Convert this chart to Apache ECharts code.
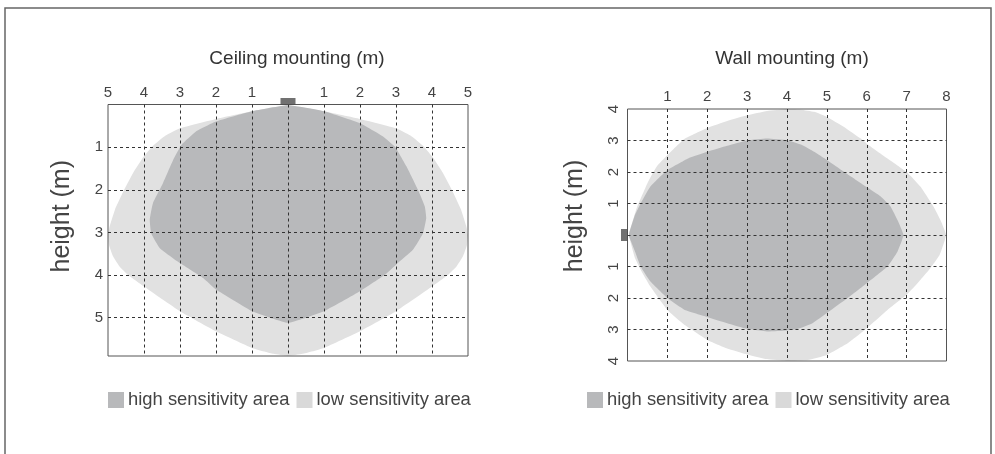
<!DOCTYPE html>
<html><head><meta charset="utf-8">
<style>html,body{margin:0;padding:0;background:#fff}#c{width:995px;height:454px}</style>
<script src="https://cdn.jsdelivr.net/npm/echarts@6/dist/echarts.min.js"></script>
</head><body><div id="c"></div>
<script>
const ceilingLow=[[0,.02],[1,.16],[2,.34],[3,.56],[3.4,.73],[3.75,.97],[4.05,1.27],[4.3,1.6],[4.55,2],[4.8,2.45],[4.95,2.85],[5,3.05],[4.97,3.3],[4.86,3.56],[4.68,3.8],[4.44,4],[4,4.27],[3,4.85],[2,5.32],[1,5.71],[.4,5.85],[0,5.9],[-.4,5.85],[-1,5.71],[-2,5.32],[-3,4.85],[-4,4.27],[-4.44,4],[-4.68,3.8],[-4.86,3.56],[-4.97,3.3],[-5,3.05],[-4.95,2.85],[-4.8,2.45],[-4.55,2],[-4.3,1.6],[-4.05,1.27],[-3.75,.97],[-3.4,.73],[-3,.56],[-2,.34],[-1,.16]];
const ceilingHigh=[[0,.02],[1,.16],[2,.44],[2.64,.75],[2.98,1],[3.29,1.45],[3.61,2],[3.8,2.39],[3.84,2.66],[3.75,3.02],[3.47,3.41],[3,3.76],[2.73,3.97],[2,4.38],[1,4.85],[.5,5],[0,5.12],[-.5,5],[-1,4.85],[-2,4.34],[-2.36,4.07],[-3,3.72],[-3.56,3.37],[-3.8,3.02],[-3.84,2.7],[-3.75,2.31],[-3.47,1.84],[-3.19,1.3],[-2.96,.95],[-2.55,.63],[-2,.4],[-1,.16]];
const wallLow=[[.04,.05],[.23,.85],[.52,1.7],[.73,2.17],[1,2.53],[1.44,3.06],[2,3.4],[2.5,3.62],[3,3.8],[3.5,3.94],[4,3.99],[4.35,3.98],[4.68,3.91],[5,3.75],[5.43,3.43],[5.85,3.06],[6,2.9],[6.52,2.43],[7,2],[7.35,1.53],[7.68,.89],[7.85,.47],[7.99,0],[7.83,-.63],[7.6,-1.05],[7.35,-1.42],[7,-1.9],[6.52,-2.38],[6,-2.96],[5.52,-3.44],[5,-3.81],[4.52,-3.97],[4,-4],[3.5,-3.94],[3,-3.79],[2.5,-3.6],[2,-3.33],[1.44,-2.86],[1,-2.38],[.57,-1.63],[.33,-1.1],[.19,-.74],[.04,-.05]];
const wallHigh=[[.04,.05],[.19,.64],[.33,1],[.57,1.53],[1,2.06],[1.52,2.43],[2,2.64],[2.5,2.83],[3,3],[3.5,3.06],[4,3.01],[4.35,2.87],[4.68,2.64],[5,2.38],[5.52,1.93],[6,1.52],[6.35,1.22],[6.6,.9],[6.77,.48],[6.92,0],[6.77,-.53],[6.52,-1],[6,-1.53],[5.52,-2],[5,-2.48],[4.64,-2.8],[4.27,-2.98],[4,-3.03],[3.5,-3.06],[3,-2.98],[2.5,-2.8],[2,-2.6],[1.44,-2.38],[1,-2],[.57,-1.47],[.33,-1],[.19,-.53],[.04,-.05]];
const ceilingSensor=[[0,0]];
const wallSensor=[[0,0]];
const titles=['Ceiling mounting (m)','Wall mounting (m)'];
const yName='height (m)';
const highName='high sensitivity area';
const lowName='low sensitivity area';

const font='"Liberation Sans",Arial,sans-serif';
const HIGH='#b8b9bb', LOW='#e1e1e1', TXT='#444';
const chart=echarts.init(document.getElementById('c'),null,{renderer:'canvas'});
const area=(name,pts,color,g)=>({
  type:'custom',name,xAxisIndex:g,yAxisIndex:g,z:2,data:pts,
  itemStyle:{color},
  renderItem:(p,api)=>p.dataIndex!==0?null:({
    type:'polygon',
    shape:{points:pts.map(q=>api.coord(q)),smooth:0.12},
    style:{fill:color}
  })
});
const sensor=(pts,g,size,offset)=>({
  type:'scatter',xAxisIndex:g,yAxisIndex:g,z:7,data:pts,silent:true,
  symbol:'rect',symbolSize:size,symbolOffset:offset,
  itemStyle:{color:'#4d4d4d'}
});
const split={show:true,showMinLine:false,showMaxLine:false,lineStyle:{color:'#333',width:1,type:[3,3]}};
const intLabel=v=>(v===0||!Number.isInteger(v))?'':String(Math.abs(v));
const xAx=(g,min,max,m)=>({gridIndex:g,type:'value',position:'top',min,max,interval:1,z:5,
  axisLine:{show:false},axisTick:{show:false},splitLine:split,
  axisLabel:{color:TXT,fontFamily:font,fontSize:15,margin:m,formatter:intLabel,showMinLabel:true,showMaxLabel:true,hideOverlap:false}});
const legend=(left)=>({left,top:391,padding:0,itemWidth:16,itemHeight:16,itemGap:7,icon:'rect',selectedMode:false,
  data:[{name:highName,itemStyle:{color:HIGH}},{name:lowName,itemStyle:{color:'#d9d9d9'}}],
  textStyle:{color:TXT,fontFamily:font,fontSize:18.4,padding:[0,0,0,-1]}});
chart.setOption({
  animation:false,
  backgroundColor:'#fff',
  graphic:[{type:'rect',silent:true,z:-1,shape:{x:5,y:8,width:986,height:460},style:{fill:'none',stroke:'#666',lineWidth:1.5}}],
  title:[
    {text:titles[0],left:292,top:44,textAlign:'center',textStyle:{color:'#333',fontFamily:font,fontSize:19,fontWeight:'normal'}},
    {text:titles[1],left:787,top:44,textAlign:'center',textStyle:{color:'#333',fontFamily:font,fontSize:19,fontWeight:'normal'}}
  ],
  legend:[legend(108),legend(587)],
  grid:[
    {left:108,top:104.5,width:360,height:251.5,show:true,borderColor:'#555',borderWidth:1,backgroundColor:'transparent',z:5},
    {left:627.5,top:109,width:319,height:252,show:true,borderColor:'#555',borderWidth:1,backgroundColor:'transparent',z:5}
  ],
  xAxis:[xAx(0,-5,5,4),xAx(1,0,8,5)],
  yAxis:[
    {gridIndex:0,type:'value',inverse:true,min:0,max:5.9,interval:1,z:5,
     name:yName,nameLocation:'middle',nameGap:33,nameRotate:90,nameTextStyle:{color:TXT,fontFamily:font,fontSize:25,padding:[0,0,0,28]},
     axisLine:{show:false},axisTick:{show:false},splitLine:split,
     axisLabel:{color:TXT,fontFamily:font,fontSize:15,margin:5,formatter:intLabel,padding:[0,0,6,0]}},
    {gridIndex:1,type:'value',min:-4,max:4,interval:1,z:5,
     name:yName,nameLocation:'middle',nameGap:40,nameRotate:90,nameTextStyle:{color:TXT,fontFamily:font,fontSize:25,padding:[0,0,0,38]},
     axisLine:{show:false},axisTick:{show:false},splitLine:split,
     axisLabel:{color:TXT,fontFamily:font,fontSize:15,margin:6,rotate:90,formatter:intLabel,showMinLabel:true,showMaxLabel:true,hideOverlap:false}}
  ],
  series:[
    area(lowName,ceilingLow,LOW,0),
    area(highName,ceilingHigh,HIGH,0),
    sensor(ceilingSensor,0,[15,7],[0,-3]),
    area(lowName,wallLow,LOW,1),
    area(highName,wallHigh,HIGH,1),
    sensor(wallSensor,1,[7,12],[-3,0])
  ]
});
</script></body></html>
